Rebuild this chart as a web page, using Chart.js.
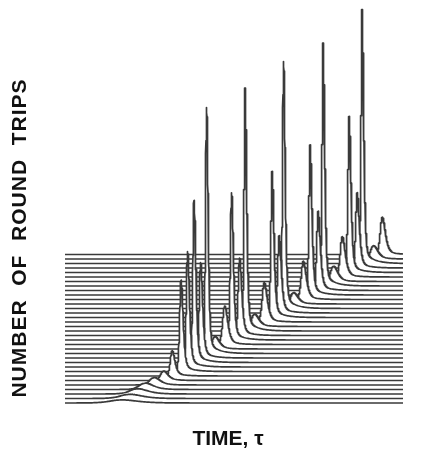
<!DOCTYPE html>
<html>
<head>
<meta charset="utf-8">
<script src="https://cdn.jsdelivr.net/npm/chart.js@4.4.0/dist/chart.umd.min.js"></script>
<style>
    html, body { margin: 0; padding: 0; background: #fff; }
</style>
</head>
<body>
<canvas id="grafico" width="447" height="450"></canvas>
<script>
// one entry per round trip, front (bottom) trace first
const roundTrips = [0, 1, 2, 3, 4, 5, 6, 7, 8, 9, 10, 11, 12, 13, 14, 15, 16,
    17, 18, 19, 20, 21, 22, 23, 24, 25, 26, 27, 28, 29, 30, 31, 32, 33];
const peakTime = [55, 63, 71, 79, 88, 98, 107, 116, 122.5, 129, 135.5, 141.5,
    149.5, 159.5, 166.5, 174.5, 180, 189, 199, 207, 214, 218.5, 228, 238, 245,
    253, 258, 268, 277, 284, 292, 297, 308, 317];
const peakHeight = [3, 4, 5, 6, 7, 9, 25, 91, 115, 162, 95, 246, 12, 38,
    147, 77, 243, 12, 39, 146, 77, 247, 11, 38, 150, 79, 243, 15, 40, 156, 75,
    254, 13, 37];
const pulseWidth = [14, 11, 9, 7, 5, 3.5, 2.2, 1.7, 1.6, 1.5, 1.7, 1.3, 3.5, 2.5,
    1.5, 1.8, 1.3, 3.5, 2.5, 1.5, 1.8, 1.3, 3.5, 2.5, 1.5, 1.8, 1.3, 3.5, 2.5,
    1.5, 1.8, 1.3, 3.5, 2.5];
const tailHeight = [1, 1.5, 2, 2.5, 3, 3, 4, 8, 9, 11, 8, 14, 3, 5, 10, 7, 14, 3,
    5, 10, 7, 14, 3, 5, 10, 7, 14, 3, 5, 10, 7, 15, 3, 5];

const timeSpan = 338;
const traceOffset = 4.5;
const tailLength = 9;

const yTitle = "NUMBER  OF  ROUND  TRIPS";
const xTitle = "TIME, \u03c4";

function sech2(u) {
    const c = Math.cosh(u);
    return 1 / (c * c);
}

function intensity(t, k) {
    const d = t - peakTime[k];
    const w = pulseWidth[k];
    if (d < 0) return peakHeight[k] * sech2(d / w);
    return peakHeight[k] * sech2(d / (1.6 * w)) +
        tailHeight[k] * (1 - Math.exp(-d / w)) * Math.exp(-d / tailLength);
}

function sampleTimes(k) {
    const ts = [];
    for (let t = 0; t <= timeSpan; t += 1) ts.push(t);
    for (let t = peakTime[k] - 10; t <= peakTime[k] + 10; t += 0.2) ts.push(t);
    ts.push(peakTime[k]);
    return ts.filter(t => t >= 0 && t <= timeSpan).sort((a, b) => a - b);
}

const datasets = roundTrips.map(k => {
    const base = k * traceOffset;
    return {
        data: sampleTimes(k).map(t => ({ x: t, y: base + intensity(t, k) })),
        borderColor: "#3a3a3a",
        borderWidth: 1.7,
        backgroundColor: "#fff",
        fill: { value: base },
        pointRadius: 0,
        tension: 0,
        borderJoinStyle: "round",
        clip: false
    };
});

const rotulos = {
    id: "rotulos",
    afterDraw(chart) {
        const ctx = chart.ctx;
        ctx.save();
        ctx.fillStyle = "#111";
        ctx.textAlign = "center";
        ctx.textBaseline = "middle";
        ctx.font = 'bold 21px "Liberation Sans", Arial, sans-serif';
        ctx.letterSpacing = "1px";
        ctx.translate(20, 238);
        ctx.rotate(-Math.PI / 2);
        ctx.fillText(yTitle, 0, 0);
        ctx.restore();

        ctx.save();
        ctx.fillStyle = "#111";
        ctx.textAlign = "center";
        ctx.textBaseline = "middle";
        ctx.font = 'bold 21px "Liberation Sans", Arial, sans-serif';
        ctx.fillText(xTitle, 228, 439);
        ctx.restore();
    }
};

new Chart(document.getElementById("grafico"), {
    type: "line",
    data: { datasets: datasets },
    options: {
        responsive: false,
        animation: false,
        devicePixelRatio: 1,
        layout: { padding: { left: 65, right: 44, top: 0, bottom: 42.5 } },
        scales: {
            x: { type: "linear", min: 0, max: timeSpan, display: false },
            y: { type: "linear", min: -traceOffset, max: 403, display: false }
        },
        plugins: {
            legend: { display: false },
            tooltip: { enabled: false }
        }
    },
    plugins: [rotulos]
});
</script>
</body>
</html>
